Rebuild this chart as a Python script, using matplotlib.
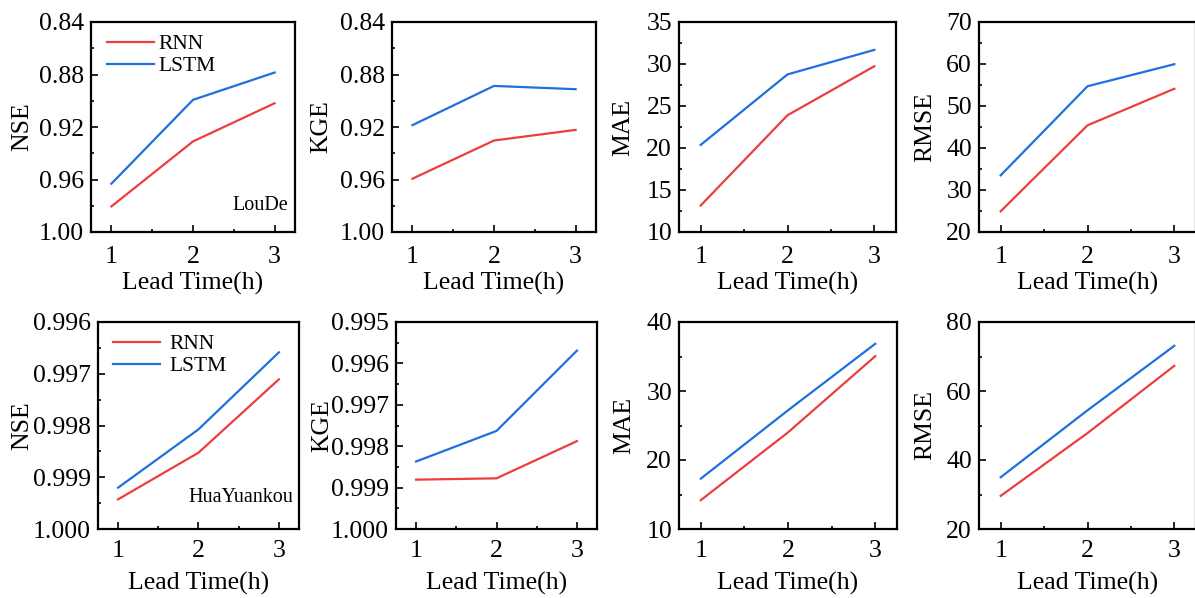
import matplotlib
matplotlib.use("Agg")
import matplotlib.pyplot as plt
from matplotlib.ticker import MultipleLocator, FormatStrFormatter

plt.rcParams['font.family'] = ['Liberation Serif', 'DejaVu Serif']
plt.rcParams['font.size'] = 18

# data
lead_time = [1, 2, 3]
models = ["RNN", "LSTM"]
colors = ["#EE3D3D", "#1F6FE0"]

# LouDe station (top row)
loude_nse_rnn = [0.9805, 0.9310, 0.9019]
loude_nse_lstm = [0.9632, 0.8993, 0.8785]
loude_kge_rnn = [0.9594, 0.9303, 0.9222]
loude_kge_lstm = [0.9186, 0.8887, 0.8912]
loude_mae_rnn = [13.16, 23.9, 29.73]
loude_mae_lstm = [20.37, 28.76, 31.68]
loude_rmse_rnn = [24.94, 45.4, 54.1]
loude_rmse_lstm = [33.5, 54.7, 59.95]

# HuaYuankou station (bottom row)
hyk_nse_rnn = [0.999427, 0.998525, 0.997108]
hyk_nse_lstm = [0.999201, 0.998074, 0.996586]
hyk_kge_rnn = [0.998808, 0.998776, 0.997878]
hyk_kge_lstm = [0.998370, 0.997631, 0.995692]
hyk_mae_rnn = [14.18, 24.0, 35.04]
hyk_mae_lstm = [17.3, 27.2, 36.84]
hyk_rmse_rnn = [29.6, 47.8, 67.3]
hyk_rmse_lstm = [35.0, 54.4, 73.1]

W, H = 1195, 598
fig = plt.figure(figsize=(W / 100, H / 100), dpi=100)

# (label, rnn, lstm, ylim, major, minor, fmt, inverted, axes px box, ylabel x offset px)
panels = [
    ("NSE", loude_nse_rnn, loude_nse_lstm, (0.84, 1.00), 0.04, 0.02, "%.2f", True, (91, 22, 204, 210), -69),
    ("KGE", loude_kge_rnn, loude_kge_lstm, (0.84, 1.00), 0.04, 0.02, "%.2f", True, (392, 22, 204, 210), -71),
    ("MAE", loude_mae_rnn, loude_mae_lstm, (10, 35), 5, 2.5, "%d", False, (679, 22, 217, 210), -56),
    ("RMSE", loude_rmse_rnn, loude_rmse_lstm, (20, 70), 10, 5, "%d", False, (979, 22, 217, 210), -54),
    ("NSE", hyk_nse_rnn, hyk_nse_lstm, (0.996, 1.000), 0.001, 0.0005, "%.3f", True, (98, 322, 201, 207), -76),
    ("KGE", hyk_kge_rnn, hyk_kge_lstm, (0.995, 1.000), 0.001, 0.0005, "%.3f", True, (396, 322, 201, 207), -74),
    ("MAE", hyk_mae_rnn, hyk_mae_lstm, (10, 40), 10, 5, "%d", False, (679, 322, 218, 207), -55),
    ("RMSE", hyk_rmse_rnn, hyk_rmse_lstm, (20, 80), 20, 10, "%d", False, (979, 322, 217, 207), -54),
]

axes = []
for i, (name, rnn, lstm, ylim, major, minor, fmt, inverted, box, ylab_dx) in enumerate(panels):
    left, top, w, h = box
    ax = fig.add_axes([left / W, 1 - (top + h) / H, w / W, h / H])
    axes.append(ax)

    ax.plot(lead_time, rnn, color=colors[0], linewidth=1.6, label=models[0])
    ax.plot(lead_time, lstm, color=colors[1], linewidth=1.6, label=models[1])

    ax.set_xlim(0.75, 3.25)
    ax.set_xticks(lead_time)
    ax.xaxis.set_minor_locator(MultipleLocator(0.5))
    ax.yaxis.set_major_locator(MultipleLocator(major))
    ax.yaxis.set_minor_locator(MultipleLocator(minor))
    ax.yaxis.set_major_formatter(FormatStrFormatter(fmt))
    if inverted:
        ax.set_ylim(ylim[1], ylim[0])
    else:
        ax.set_ylim(ylim)

    ax.tick_params(which='both', direction='in', width=1.2, labelsize=18.5)
    ax.tick_params(which='major', length=5)
    ax.tick_params(axis='y', which='major', pad=5)
    ax.tick_params(axis='x', which='major', pad=10 if top < 300 else 8)
    ax.tick_params(which='minor', length=2.5)
    ax.tick_params(axis='y', which='both', right=False)
    ax.tick_params(axis='x', which='both', top=False)
    for sp in ax.spines.values():
        sp.set_linewidth(1.6)

    ax.set_ylabel(name, fontsize=18.5, va='center')
    ax.yaxis.set_label_coords(ylab_dx / w, 0.5)
    ax.set_xlabel("Lead Time(h)", fontsize=18.5, va='center')
    xlab_dy = 51 if top < 300 else 54
    ax.xaxis.set_label_coords(0.5, -xlab_dy / h)

# legends and station names
axes[0].legend(loc='upper left', bbox_to_anchor=(16 / 204, 1 - 12 / 210), frameon=False,
               fontsize=15.5, handlelength=2.2, handletextpad=0.2, labelspacing=0.1,
               borderpad=0, borderaxespad=0)
axes[4].legend(loc='upper left', bbox_to_anchor=(15 / 201, 1 - 12 / 207), frameon=False,
               fontsize=15.5, handlelength=2.2, handletextpad=0.4, labelspacing=0.1,
               borderpad=0, borderaxespad=0)
axes[0].text(1 - 7 / 204, 27 / 210, "LouDe", transform=axes[0].transAxes,
             ha='right', va='center', fontsize=14.5)
axes[4].text(1 - 6 / 201, 32 / 207, "HuaYuankou", transform=axes[4].transAxes,
             ha='right', va='center', fontsize=14.5)

fig.savefig("out.png", dpi=100)
